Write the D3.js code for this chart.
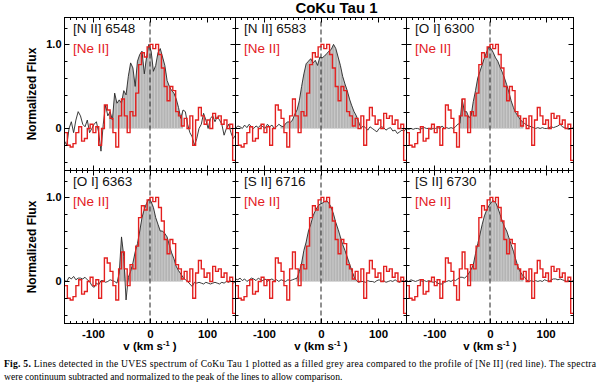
<!DOCTYPE html>
<html><head><meta charset="utf-8">
<script src="https://cdn.jsdelivr.net/npm/d3@7"></script>
<style>body{margin:0;background:#fff}svg{display:block}</style>
</head><body>
<script>
// ---------------- DATA ----------------
const chartTitle = "CoKu Tau 1";
const lineLabels = ["[N II] 6548", "[N II] 6583", "[O I] 6300", "[O I] 6363", "[S II] 6716", "[S II] 6730"];
const neLabel = "[Ne II]";
// velocity sampling (km/s) of the optical spectra and of the [Ne II] bins
const velGrid = d3.range(-150, 151, 4);
const neEdges = d3.range(-150, 151, 5);
// [Ne II] profile (same in every panel), one value per 5 km/s bin
const neFlux = [
 -0.05,-0.20,-0.22,-0.18,-0.05, 0.02,-0.15,-0.12, 0.00, 0.05,
 -0.05, 0.02,-0.20, 0.00, 0.28, 0.22, 0.12,-0.05,-0.22, 0.15,
  0.35, 0.15,-0.05, 0.20, 0.15, 0.42, 0.76, 0.90, 0.85, 0.97,
  1.00, 0.95, 1.00, 0.88, 0.72, 0.50, 0.33, 0.50, 0.45, 0.20,
  0.15, 0.03, 0.12, 0.00, 0.15,-0.20, 0.10, 0.25, 0.15, 0.05,
  0.10, 0.00, 0.18, 0.12, 0.15, 0.05, 0.10, 0.00, 0.05,-0.38];
const n2_6548 = [
 -0.15,-0.20, 0.00, 0.08,-0.05, 0.10, 0.20, 0.15, 0.05, 0.02,
  0.10,-0.05, 0.00, 0.05, 0.08,-0.05,-0.27, 0.05, 0.28, 0.15,
  0.20, 0.10, 0.42, 0.30, 0.34, 0.30, 0.45, 0.40, 0.62, 0.78,
  0.72, 0.50, 0.80, 0.88, 0.92, 0.65, 0.85, 1.00, 0.92, 0.68,
  0.75, 0.90, 0.95, 0.85, 0.75, 0.57, 0.50, 0.45, 0.42, 0.35,
  0.25, 0.12, 0.22, 0.20, 0.05,-0.05,-0.10,-0.20,-0.12, 0.00,
  0.05, 0.18, 0.10, 0.00, 0.12, 0.15, 0.08, 0.14, 0.10, 0.05,
 -0.08, 0.00, 0.05,-0.05,-0.12,-0.08];
const n2_6583 = [
  0.00, 0.03, 0.02, 0.00, 0.04, 0.01, 0.05, 0.02, 0.00, 0.03,
  0.01, 0.04, 0.02, 0.00, 0.05, 0.02, 0.04, 0.00, 0.02, 0.05,
  0.03, 0.02, 0.06, 0.08, 0.07, 0.10, 0.17, 0.22, 0.33, 0.50,
  0.65, 0.77, 0.80, 0.83, 0.78, 0.81, 0.75, 0.85, 0.84, 0.86,
  0.89, 0.92, 0.94, 1.00, 0.95, 0.85, 0.75, 0.62, 0.53, 0.45,
  0.35, 0.27, 0.20, 0.15, 0.08, 0.00, 0.03, 0.01,-0.02, 0.02,
  0.00,-0.02,-0.04, 0.00, 0.02, 0.01,-0.02, 0.00, 0.01,-0.03,
 -0.02,-0.06,-0.04,-0.02,-0.03, 0.00];
const o1_6300 = [
  0.00,-0.01, 0.00,-0.01, 0.00, 0.00,-0.01, 0.00, 0.01, 0.00,
  0.00,-0.01, 0.00, 0.00, 0.01, 0.00, 0.03, 0.00, 0.01, 0.00,
  0.01, 0.00, 0.02, 0.05, 0.06, 0.35, 0.20, 0.20, 0.13, 0.15,
  0.32, 0.45, 0.60, 0.68, 0.76, 0.84, 0.91, 0.97, 0.95, 0.90,
  0.84, 0.80, 0.73, 0.67, 0.60, 0.52, 0.43, 0.33, 0.25, 0.19,
  0.15, 0.11, 0.08, 0.06, 0.04, 0.03, 0.02, 0.01, 0.00, 0.01,
  0.00, 0.01, 0.00, 0.00, 0.01, 0.02, 0.01, 0.02, 0.03, 0.05,
  0.02, 0.01, 0.00,-0.01, 0.00, 0.01];
const o1_6363 = [
  0.01, 0.00, 0.05, 0.03, 0.06, 0.02, 0.04, 0.04, 0.03, 0.05,
  0.02, 0.00,-0.05,-0.07,-0.02,-0.04, 0.01, 0.01,-0.01, 0.00,
  0.02, 0.01, 0.00,-0.02, 0.10, 0.53, 0.30,-0.22, 0.05, 0.12,
  0.22, 0.35, 0.45, 0.60, 0.76, 0.86, 0.93, 0.98, 0.95, 0.88,
  0.76, 0.68, 0.60, 0.60, 0.57, 0.53, 0.43, 0.34, 0.27, 0.18,
  0.13, 0.09, 0.05, 0.02, 0.00,-0.03,-0.06,-0.01,-0.02,-0.01,
 -0.02,-0.03,-0.01,-0.02,-0.03,-0.02,-0.01,-0.02,-0.03,-0.01,
 -0.02, 0.00,-0.01, 0.01,-0.02, 0.00];
const s2_6716 = [
  0.03, 0.02, 0.04, 0.01, 0.03, 0.00, 0.02, 0.04, 0.03, 0.01,
  0.04, 0.02, 0.01, 0.03, 0.00, 0.02, 0.03, 0.01, 0.02, 0.00,
  0.02, 0.01, 0.00, 0.02, 0.01, 0.02, 0.03, 0.04, 0.12, 0.22,
  0.37, 0.47, 0.60, 0.68, 0.78, 0.84, 0.89, 0.92, 0.93, 0.95,
  0.96, 0.93, 0.88, 0.80, 0.70, 0.62, 0.53, 0.44, 0.37, 0.29,
  0.21, 0.13, 0.06, 0.01,-0.01, 0.00, 0.00,-0.01, 0.01, 0.00,
  0.00,-0.01, 0.01, 0.02, 0.00, 0.01,-0.01, 0.00, 0.01, 0.00,
  0.02, 0.00,-0.01, 0.01, 0.00, 0.02];
const s2_6730 = [
  0.01, 0.00, 0.02, 0.01, 0.00, 0.01, 0.02, 0.00, 0.01, 0.00,
  0.01, 0.00,-0.01, 0.00,-0.02,-0.03,-0.03,-0.01, 0.00, 0.01,
  0.00, 0.02, 0.01, 0.03, 0.05, 0.05, 0.04, 0.06, 0.10, 0.14,
  0.20, 0.33, 0.45, 0.56, 0.68, 0.78, 0.85, 0.90, 0.94, 0.96,
  0.94, 0.88, 0.80, 0.72, 0.65, 0.60, 0.52, 0.44, 0.36, 0.27,
  0.18, 0.12, 0.08, 0.05, 0.02, 0.00, 0.01, 0.00, 0.01, 0.00,
  0.01, 0.00, 0.02, 0.01, 0.00, 0.02, 0.03, 0.03, 0.02, 0.03,
  0.02, 0.01, 0.00, 0.01, 0.00, 0.01];
// velocity range of each line that is shaded grey
const fillRanges = [[-72, 58], [-71, 66], [-55, 60], [-54, 58], [-44, 62], [-40, 60]];
const xDomain = [-150, 150];
const yDomain = [-0.5, 1.32];
const xTickLabels = [-100, 0, 100];
const yTickLabels = [0, 1];
const yLabelText = "Normalized Flux";
const captionBold = "Fig. 5.";
const captionLine1 = " Lines detected in the UVES spectrum of CoKu Tau 1 plotted as a filled grey area compared to the profile of [Ne II] (red line). The spectra";
const captionLine2 = "were continuum subtracted and normalized to the peak of the lines to allow comparison.";

// ---------------- DRAW ----------------
const W = 600, H = 386;
const svg = d3.select("body").append("svg").attr("width", W).attr("height", H);
svg.append("rect").attr("width", W).attr("height", H).attr("fill", "#fff");
const defs = svg.append("defs");

const colLeft = [64.5, 235.5, 406.5], colW = [171, 171, 167];
const rowTop = [17.5, 170.5], rowH = 153;
const sans = "'Liberation Sans', Arial, Helvetica, sans-serif";
const spectra = [n2_6548, n2_6583, o1_6300, o1_6363, s2_6716, s2_6730];
const red = "#e3201f";

spectra.forEach((flux, i) => {
  const r = Math.floor(i / 3), c = i % 3;
  const x = d3.scaleLinear().domain(xDomain).range([colLeft[c], colLeft[c] + colW[c]]);
  const y = d3.scaleLinear().domain(yDomain).range([rowTop[r] + rowH, rowTop[r]]);
  const g = svg.append("g");
  const clipId = "clip" + i, fclipId = "fclip" + i;
  defs.append("clipPath").attr("id", clipId).append("rect")
    .attr("x", x(xDomain[0])).attr("y", y(yDomain[1])).attr("width", colW[c]).attr("height", rowH);
  defs.append("clipPath").attr("id", fclipId).append("rect")
    .attr("x", x(fillRanges[i][0])).attr("y", y(yDomain[1]))
    .attr("width", x(fillRanges[i][1]) - x(fillRanges[i][0])).attr("height", rowH);

  const pts = velGrid.map((v, k) => [v, flux[k]]).filter(d => d[1] !== undefined);
  // grey filled area (solid grey with faint light vertical hatching)
  const fillG = g.append("g").attr("clip-path", `url(#${fclipId})`);
  fillG.append("path").datum(pts).attr("fill", "#b4b4b4")
    .attr("d", d3.area().x(d => x(d[0])).y0(y(0)).y1(d => y(Math.max(0, d[1]))));
  const hatchV = d3.range(fillRanges[i][0], fillRanges[i][1], 5);
  const interp = v => { const k = Math.min(pts.length - 2, Math.floor((v - velGrid[0]) / 4));
    const t = (v - pts[k][0]) / (pts[k + 1][0] - pts[k][0]); return pts[k][1] * (1 - t) + pts[k + 1][1] * t; };
  fillG.selectAll("line.h").data(hatchV).join("line")
    .attr("x1", v => x(v)).attr("x2", v => x(v)).attr("y1", y(0))
    .attr("y2", v => y(Math.max(0, interp(v)))).attr("stroke", "#d2d2d2").attr("stroke-width", 0.8);
  // dashed zero-velocity line
  g.append("line").attr("x1", x(0)).attr("x2", x(0)).attr("y1", y(yDomain[0])).attr("y2", y(yDomain[1]))
    .attr("stroke", "#222").attr("stroke-width", 1).attr("stroke-dasharray", "5,3");
  const lines = g.append("g").attr("clip-path", `url(#${clipId})`);
  lines.append("path").datum(pts).attr("fill", "none").attr("stroke", "#262626").attr("stroke-width", 0.9)
    .attr("d", d3.line().x(d => x(d[0])).y(d => y(d[1])));
  const nePts = neEdges.map((e, k) => [e, k < neFlux.length ? neFlux[k] : neFlux[neFlux.length - 1]]);
  lines.append("path").datum(nePts).attr("fill", "none").attr("stroke", red).attr("stroke-width", 1.4)
    .attr("d", d3.line().curve(d3.curveStepAfter).x(d => x(d[0])).y(d => y(d[1])));

  // ticks (inside, all four sides)
  const tk = g.append("g").attr("stroke", "#000").attr("stroke-width", 1);
  d3.range(-140, 150, 10).forEach(v => {
    const L = (v % 100 === 0) ? 5 : 2.5;
    const xv = Math.round(x(v)) + 0.5;
    tk.append("line").attr("x1", xv).attr("x2", xv).attr("y1", y(yDomain[0])).attr("y2", y(yDomain[0]) - L);
    tk.append("line").attr("x1", xv).attr("x2", xv).attr("y1", y(yDomain[1])).attr("y2", y(yDomain[1]) + L);
  });
  [-0.4, -0.2, 0, 0.2, 0.4, 0.6, 0.8, 1.0, 1.2].forEach(v => {
    const L = (v === 0 || v === 1) ? 5 : 3;
    const yv = Math.round(y(v)) + 0.5;
    tk.append("line").attr("x1", x(xDomain[0])).attr("x2", x(xDomain[0]) + L).attr("y1", yv).attr("y2", yv);
    tk.append("line").attr("x1", x(xDomain[1])).attr("x2", x(xDomain[1]) - L).attr("y1", yv).attr("y2", yv);
  });
  // frame
  g.append("rect").attr("x", x(xDomain[0])).attr("y", y(yDomain[1])).attr("width", colW[c]).attr("height", rowH)
    .attr("fill", "none").attr("stroke", "#000").attr("stroke-width", 1);

  // panel labels
  g.append("text").attr("x", x(xDomain[0]) + 8.5).attr("y", rowTop[r] + 15.5)
    .attr("font-family", sans).attr("font-size", 13.5).attr("fill", "#111").text(lineLabels[i]);
  g.append("text").attr("x", x(xDomain[0]) + 8.5).attr("y", rowTop[r] + 35.5)
    .attr("font-family", sans).attr("font-size", 13.5).attr("fill", red).text(neLabel);

  // y axis labels
  if (c === 0) {
    const ya = g.append("g").attr("transform", `translate(${x(xDomain[0]) - 3},0)`)
      .call(d3.axisLeft(y).tickValues(yTickLabels).tickSize(0).tickPadding(0)
        .tickFormat(d => d === 0 ? "0" : d3.format(".1f")(d)));
    ya.select(".domain").remove();
    ya.selectAll("text").attr("font-family", sans).attr("font-size", 11).attr("font-weight", "bold").attr("fill", "#000");
    g.append("text").attr("transform", `translate(36,${y(0.41)}) rotate(-90)`)
      .attr("text-anchor", "middle").attr("font-family", sans).attr("font-size", 12)
      .attr("font-weight", "bold").text(yLabelText);
  }
  // x axis labels
  if (r === 1) {
    const xa = g.append("g").attr("transform", `translate(0,${y(yDomain[0]) + 6})`)
      .call(d3.axisBottom(x).tickValues(xTickLabels).tickSize(0).tickPadding(0).tickFormat(d => String(d)));
    xa.select(".domain").remove();
    xa.selectAll("text").attr("font-family", sans).attr("font-size", 11.5).attr("font-weight", "bold").attr("fill", "#000");
    const xl = g.append("text").attr("x", x(0)).attr("y", 350).attr("text-anchor", "middle")
      .attr("font-family", sans).attr("font-size", 11.5).attr("font-weight", "bold");
    xl.append("tspan").text("v (km s");
    xl.append("tspan").attr("font-size", 7.5).attr("dy", -4.5).text("-1");
    xl.append("tspan").attr("dy", 4.5).text(" )");
  }
});

// title
svg.append("text").attr("x", 336.5).attr("y", 12.5).attr("text-anchor", "middle")
  .attr("font-family", sans).attr("font-size", 15).attr("font-weight", "bold").text(chartTitle);

// caption
const serif = "'Liberation Serif', 'Times New Roman', serif";
const c1 = svg.append("text").attr("x", 4).attr("y", 367).attr("font-family", serif).attr("font-size", 9.6)
  .attr("textLength", 592).attr("lengthAdjust", "spacing");
c1.append("tspan").attr("font-weight", "bold").text(captionBold);
c1.append("tspan").text(captionLine1);
svg.append("text").attr("x", 4).attr("y", 380).attr("font-family", serif).attr("font-size", 9.6).text(captionLine2);
</script>
</body></html>
